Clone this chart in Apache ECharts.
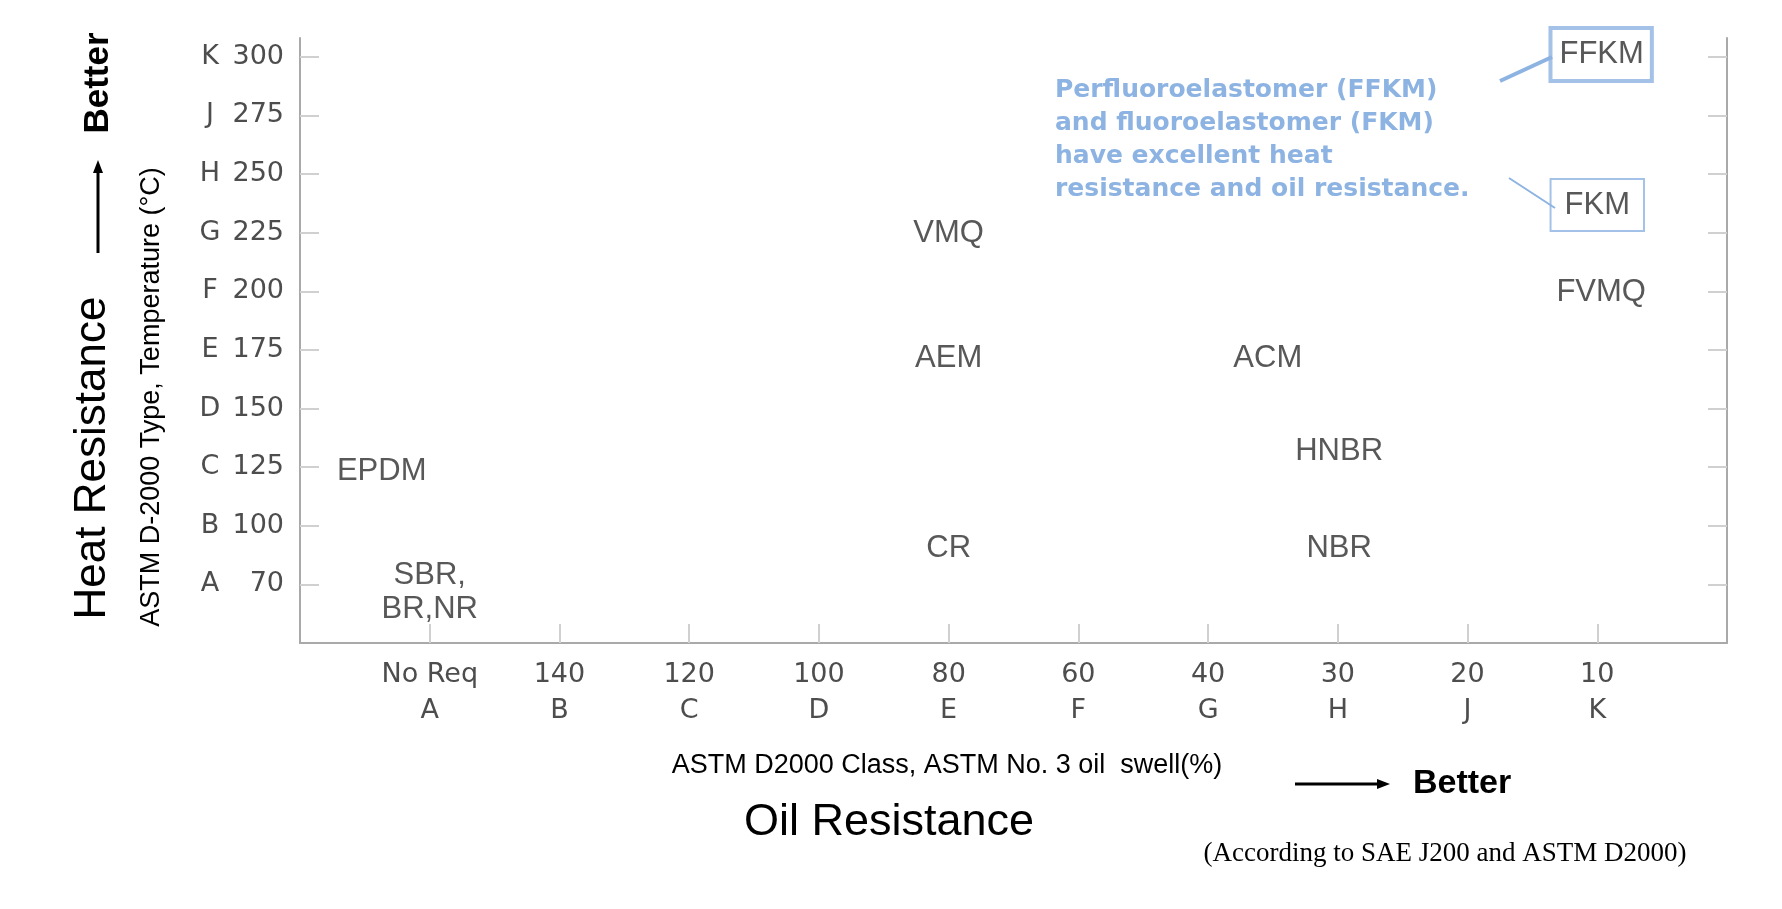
<!DOCTYPE html>
<html>
<head>
<meta charset="utf-8">
<title>Heat and oil resistance of elastomers</title>
<script src="https://cdn.jsdelivr.net/npm/echarts@6/dist/echarts.min.js"></script>
<style>
html,body{margin:0;padding:0;background:#fff;}
#chart{width:1782px;height:909px;}
</style>
</head>
<body>
<div id="chart"></div>
<script>
// x axis: ASTM D2000 class / No.3 oil swell (%)
var swellVals = ['No Req', '140', '120', '100', '80', '60', '40', '30', '20', '10'];
var swellClass = ['A', 'B', 'C', 'D', 'E', 'F', 'G', 'H', 'J', 'K'];
// y axis: ASTM D2000 type / temperature
var tempType = ['A', 'B', 'C', 'D', 'E', 'F', 'G', 'H', 'J', 'K'];
var tempVals = ['70', '100', '125', '150', '175', '200', '225', '250', '275', '300'];
var tickPos = [1, 2, 3, 4, 5, 6, 7, 8, 9, 10];

// materials, placed on class position (x) and type position (y)
var names = ['EPDM', 'SBR,\nBR,NR', 'VMQ', 'AEM', 'ACM', 'CR', 'NBR', 'HNBR', 'FVMQ', 'FKM', 'FFKM'];
var xs = [0.63, 1.0, 5.0, 5.0, 7.46, 5.0, 8.01, 8.01, 10.03, 10.0, 10.03];
var ys = [2.93, 0.87, 6.99, 4.86, 4.86, 1.62, 1.62, 3.27, 5.98, 7.47, 10.04];

var noteLines = [
	'Perfluoroelastomer (FFKM)',
	'and fluoroelastomer (FKM)',
	'have excellent heat',
	'resistance and oil resistance.'
];

var blue = '#8db3e2';
var axisGray = '#a9a9a9';
var tickGray = '#d0d0d0';
var sans = '"Liberation Sans", Arial, sans-serif';
var tickFont = '"DejaVu Sans", Verdana, sans-serif';

var myChart = echarts.init(document.getElementById('chart'));

var points = [];
names.forEach(function(n, i){
	var p = { name: n, value: [xs[i], ys[i]] };
	if(n == 'FFKM'){
		p.label = { borderColor: blue, borderWidth: 4, padding: [10, 8, 9, 9] };
	}else if(n == 'FKM'){
		p.label = { borderColor: blue, borderWidth: 2, padding: [9, 14, 9, 14] };
	}
	points.push(p);
});

function arrow(x1, y1, x2, y2){
	// line plus a small head at (x2,y2)
	var ang = Math.atan2(y2 - y1, x2 - x1);
	var hl = 13, hw = 5;
	var bx = x2 - hl * Math.cos(ang), by = y2 - hl * Math.sin(ang);
	return [
		{ type: 'line', shape: { x1: x1, y1: y1, x2: bx, y2: by }, style: { stroke: '#000', lineWidth: 3 } },
		{ type: 'polygon', shape: { points: [[x2, y2], [bx - hw * Math.sin(ang), by + hw * Math.cos(ang)], [bx + hw * Math.sin(ang), by - hw * Math.cos(ang)]] }, style: { fill: '#000' } }
	];
}

var graphics = [
	{ type: 'text', x: 93, y: 458, rotation: Math.PI / 2,
		style: { text: 'Heat Resistance', fontFamily: sans, fontSize: 44, fill: '#000', align: 'center', verticalAlign: 'middle' } },
	{ type: 'text', x: 98, y: 83, rotation: Math.PI / 2,
		style: { text: 'Better', fontFamily: sans, fontSize: 35, fontWeight: 'bold', fill: '#000', align: 'center', verticalAlign: 'middle' } },
	{ type: 'text', x: 152, y: 397, rotation: Math.PI / 2,
		style: { text: 'ASTM D-2000 Type, Temperature (°C)', fontFamily: sans, fontSize: 27, fill: '#000', align: 'center', verticalAlign: 'middle' } },
	{ type: 'text', x: 947, y: 766,
		style: { text: 'ASTM D2000 Class, ASTM No. 3 oil  swell(%)', fontFamily: sans, fontSize: 27, fill: '#000', align: 'center', verticalAlign: 'middle' } },
	{ type: 'text', x: 889, y: 823,
		style: { text: 'Oil Resistance', fontFamily: sans, fontSize: 45, fill: '#000', align: 'center', verticalAlign: 'middle' } },
	{ type: 'text', x: 1413, y: 784,
		style: { text: 'Better', fontFamily: sans, fontSize: 34, fontWeight: 'bold', fill: '#000', align: 'left', verticalAlign: 'middle' } },
	{ type: 'text', x: 1445, y: 854,
		style: { text: '(According to SAE J200 and ASTM D2000)', fontFamily: '"Liberation Serif", "Times New Roman", serif', fontSize: 27, fill: '#000', align: 'center', verticalAlign: 'middle' } },
	{ type: 'text', x: 1055, y: 74,
		style: { text: noteLines.join('\n'), fontFamily: '"DejaVu Sans", Verdana, sans-serif', fontSize: 25, fontWeight: 'bold', lineHeight: 33, fill: blue, align: 'left', verticalAlign: 'top' } },
	{ type: 'line', shape: { x1: 1500, y1: 81, x2: 1552, y2: 57 }, style: { stroke: blue, lineWidth: 4 } },
	{ type: 'line', shape: { x1: 1509, y1: 178, x2: 1555, y2: 208 }, style: { stroke: blue, lineWidth: 2 } }
].concat(arrow(98, 253, 98, 160)).concat(arrow(1295, 784, 1390, 784));

var option = {
	backgroundColor: '#fff',
	animation: false,
	grid: { left: 300, right: 55, top: 38, bottom: 266 },
	xAxis: {
		type: 'value', min: 0, max: 11, interval: 1,
		axisLine: { show: true, lineStyle: { color: axisGray, width: 2 } },
		axisTick: { show: true, inside: true, length: 19, customValues: tickPos, lineStyle: { color: tickGray, width: 2 } },
		axisLabel: {
			customValues: tickPos, margin: 14, color: '#4d4d4d', fontFamily: tickFont, fontSize: 27, lineHeight: 36,
			formatter: function(v){
				var i = Math.round(v) - 1;
				if(i < 0 || i > 9) return '';
				return swellVals[i] + '\n' + swellClass[i];
			}
		},
		splitLine: { show: false }
	},
	yAxis: [
		{
			type: 'value', min: 0, max: 10.32, interval: 1,
			axisLine: { show: true, lineStyle: { color: axisGray, width: 2 } },
			axisTick: { show: true, inside: true, length: 19, customValues: tickPos, lineStyle: { color: tickGray, width: 2 } },
			axisLabel: {
				customValues: tickPos, margin: 16, color: '#4d4d4d', fontFamily: tickFont, fontSize: 27,
				formatter: function(v){
					var i = Math.round(v) - 1;
					if(i < 0 || i > 9) return '';
					return '{a|' + tempType[i] + '}{b|' + tempVals[i] + '}';
				},
				rich: {
					a: { width: 20, align: 'center', color: '#4d4d4d', fontFamily: tickFont, fontSize: 27 },
					b: { width: 64, align: 'right', color: '#4d4d4d', fontFamily: tickFont, fontSize: 27 }
				}
			},
			splitLine: { show: false }
		},
		{
			type: 'value', position: 'right', min: 0, max: 10.32, interval: 1,
			axisLine: { show: true, lineStyle: { color: axisGray, width: 2 } },
			axisTick: { show: true, inside: true, length: 19, customValues: tickPos, lineStyle: { color: tickGray, width: 2 } },
			axisLabel: { show: false },
			splitLine: { show: false }
		}
	],
	series: [
		{
			type: 'scatter',
			symbolSize: 1,
			itemStyle: { color: 'rgba(0,0,0,0)' },
			label: {
				show: true, position: 'inside', formatter: '{b}',
				color: '#2e2e2e', fontFamily: sans, fontSize: 31, lineHeight: 34
			},
			data: points
		}
	],
	graphic: graphics
};
myChart.setOption(option);
</script>
</body>
</html>
